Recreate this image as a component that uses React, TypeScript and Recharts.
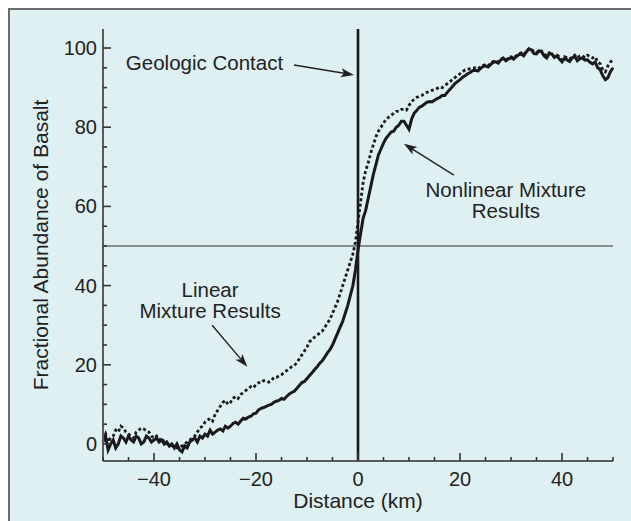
import React from "react";
import { LineChart, Line, XAxis, YAxis, ReferenceLine, ReferenceDot } from "recharts";

const distanceKm: number[] = [
  -50, -49.5, -49, -48.5, -48, -47.5, -47, -46.5, -46, -45.5, -45, -44.5, -44, -43.5, -43, -42.5, -42, -41.5, -41, -40.5,
  -40, -39.5, -39, -38.5, -38, -37.5, -37, -36.5, -36, -35.5, -35, -34.5, -34, -33.5, -33, -32.5, -32, -31.5, -31, -30.5,
  -30, -29.5, -29, -28.5, -28, -27.5, -27, -26.5, -26, -25.5, -25, -24.5, -24, -23.5, -23, -22.5, -22, -21.5, -21, -20.5,
  -20, -19.5, -19, -18.5, -18, -17.5, -17, -16.5, -16, -15.5, -15, -14.5, -14, -13.5, -13, -12.5, -12, -11.5, -11, -10.5,
  -10, -9.5, -9, -8.5, -8, -7.5, -7, -6.5, -6, -5.5, -5, -4.5, -4, -3.5, -3, -2.5, -2, -1.5, -1, -0.5,
  0, 0.5, 1, 1.5, 2, 2.5, 3, 3.5, 4, 4.5, 5, 5.5, 6, 6.5, 7, 7.5, 8, 8.5, 9, 9.5,
  10, 10.5, 11, 11.5, 12, 12.5, 13, 13.5, 14, 14.5, 15, 15.5, 16, 16.5, 17, 17.5, 18, 18.5, 19, 19.5,
  20, 20.5, 21, 21.5, 22, 22.5, 23, 23.5, 24, 24.5, 25, 25.5, 26, 26.5, 27, 27.5, 28, 28.5, 29, 29.5,
  30, 30.5, 31, 31.5, 32, 32.5, 33, 33.5, 34, 34.5, 35, 35.5, 36, 36.5, 37, 37.5, 38, 38.5, 39, 39.5,
  40, 40.5, 41, 41.5, 42, 42.5, 43, 43.5, 44, 44.5, 45, 45.5, 46, 46.5, 47, 47.5, 48, 48.5, 49, 49.5,
  50,
];

const linearMixture: number[] = [
  1, 2.5, 0.5, 1.5, 2, 3.5, 3, 4.5, 4, 3, 2.5, 2, 1.5, 3, 3.5, 4, 3.8, 3.2, 3, 2,
  1.5, 2, 1, 1.5, 0.5, 0, 0, -0.5, -0.5, -1, -1, -0.5, 0, 0.5, 1, 1.5, 2, 3, 4, 4.5,
  5.5, 6, 6.5, 5.8, 7.5, 8.5, 9.5, 10.5, 11, 10, 10.5, 11.5, 12, 11.5, 12.5, 13, 13.5, 14, 14.5, 14.2,
  15, 15.5, 15.5, 16, 16, 15.6, 16, 16.8, 16.8, 17.2, 17.5, 18, 18.5, 19, 19.5, 19.8, 20.5, 21.5, 22.5, 23.5,
  24.5, 25.8, 26.5, 27, 27.5, 28, 28.5, 29.5, 30.5, 31.5, 33, 34.5, 36, 38, 40, 42, 44, 46, 48, 51,
  56, 61, 66, 69, 71, 73.5, 75.5, 77.5, 79, 80, 81, 82, 82.5, 83, 83.5, 84, 84, 84.5, 84.5, 84.3,
  85.5, 86.5, 87, 87.5, 87.8, 88, 88.5, 88.8, 89, 89.3, 89.5, 89.8, 90.2, 90, 90.5, 91, 91.5, 92, 92.5, 93,
  93.5, 94, 94.5, 94.6, 94.8, 95, 95, 94.7, 95.2, 95.6, 95.8, 95.5, 96.2, 96.6, 96.8, 96.5, 97.2, 97.5, 97, 97.5,
  97.8, 97.5, 98, 98.5, 98.8, 98.3, 99.2, 99.8, 99.8, 99, 98.8, 99.5, 99.2, 98.5, 98, 98.8, 98.5, 97.8, 98.2, 97.8,
  97, 97.8, 97.5, 97.2, 97.8, 98.2, 97.5, 98, 98, 97.6, 98.2, 97.8, 97.5, 97.8, 96.5, 96, 94.5, 94, 95.5, 96.5,
  97,
];

const nonlinearMixture: number[] = [
  0.5, 2, -1.5, 0, 1, -1, 0, 2, 1.5, 0.5, 2, 1, 0.5, 2, 1.5, 0, 0.5, 2, 1.5, 0.5,
  1, 1.5, 0.5, 1, 0, 0.5, -0.5, 0, -1, 0, -1.5, -2, -0.5, -1, 0.5, 1, 1.5, 0.5, 2, 1.5,
  2.5, 2, 3.5, 2.5, 3, 3.5, 3.8, 3.3, 4.5, 4, 4.5, 5.2, 5.5, 5, 5.8, 6.5, 6.3, 6.8, 7, 7.6,
  7.8, 8.6, 9, 9.2, 9.5, 9.8, 10, 10.5, 10.8, 11, 11.5, 11.3, 12, 12.6, 13, 13.3, 14, 14.8, 15.5, 15.8,
  16.5, 17.3, 18, 18.8, 19.5, 20.4, 21, 22, 23, 23.8, 25, 26.5, 28, 29.5, 31, 33, 35, 37.5, 40, 44,
  49, 53, 57, 59, 62, 65, 68, 70.5, 73, 74.5, 76, 77.2, 78, 78.8, 79, 80, 80.5, 81.5, 81.5, 80.5,
  79.5, 82, 83.5, 84.2, 85, 85.3, 85.8, 86.3, 86.5, 86.4, 86.8, 87.2, 87.5, 88, 88, 88.8, 89.5, 90.2, 91, 91.5,
  92, 92.6, 93, 93.5, 93.8, 94.3, 94.4, 94.2, 94.8, 95.3, 95.5, 95.2, 95.8, 96.4, 96.5, 96.2, 97, 97.4, 96.8, 97.3,
  97.5, 97.2, 97.8, 98.3, 98.5, 98, 99, 99.8, 99.5, 98.6, 98.5, 99.3, 99, 98, 97.5, 98.6, 98.5, 97.6, 98, 97.2,
  96.5, 97.4, 97, 96.6, 97.5, 97.9, 96.8, 97.3, 97.5, 96.9, 97, 96.4, 96, 96.5, 95, 94.5, 93, 92, 92.5, 94,
  95,
];

const xTicks: number[] = [-50, -45, -40, -35, -30, -25, -20, -15, -10, -5, 0, 5, 10, 15, 20, 25, 30, 35, 40, 45, 50];
const yTicks: number[] = [0, 5, 10, 15, 20, 25, 30, 35, 40, 45, 50, 55, 60, 65, 70, 75, 80, 85, 90, 95, 100];

const data = distanceKm.map((x, i) => ({
  x,
  linear: linearMixture[i],
  nonlinear: nonlinearMixture[i],
}));

const FONT = '"Liberation Sans", Arial, Helvetica, sans-serif';
const INK = "#222";
const TICK = "#333";
const AXIS = "#5a5a5a";

const fmt = (v: number) => (v < 0 ? "\u2212" + Math.abs(v) : String(v));
const isMajor = (v: number) => v % 20 === 0;

const BottomTick = (p: any) => {
  const { x, y, payload } = p;
  const v = payload.value;
  const len = isMajor(v) ? 8 : 4;
  return (
    <g>
      <line x1={x} y1={y} x2={x} y2={y - len} stroke={TICK} strokeWidth={1.6} />
      {isMajor(v) && Math.abs(v) < 50 && (
        <text x={x} y={y + 25} textAnchor="middle" fontFamily={FONT} fontSize={20} fill={INK}>
          {fmt(v)}
        </text>
      )}
    </g>
  );
};

const TopTick = (p: any) => {
  const { x, y, payload } = p;
  const len = isMajor(payload.value) ? 8 : 4;
  return <line x1={x} y1={y} x2={x} y2={y + len} stroke={TICK} strokeWidth={1.6} />;
};

const LeftTick = (p: any) => {
  const { x, y, payload } = p;
  const v = payload.value;
  const len = isMajor(v) ? 8 : 4;
  return (
    <g>
      <line x1={x} y1={y} x2={x + len} y2={y} stroke={TICK} strokeWidth={1.6} />
      {isMajor(v) && (
        <text x={x - 6} y={y + 7} textAnchor="end" fontFamily={FONT} fontSize={20} fill={INK}>
          {fmt(v)}
        </text>
      )}
    </g>
  );
};

const RightTick = (p: any) => {
  const { x, y, payload } = p;
  const len = isMajor(payload.value) ? 8 : 4;
  return <line x1={x} y1={y} x2={x - len} y2={y} stroke={TICK} strokeWidth={1.6} />;
};

const Arrow = (p: any) => {
  const { x1, y1, x2, y2 } = p;
  const dx = x2 - x1;
  const dy = y2 - y1;
  const L = Math.sqrt(dx * dx + dy * dy) || 1;
  const ux = dx / L;
  const uy = dy / L;
  const hl = 13;
  const hw = 4.5;
  const bx = x2 - ux * hl;
  const by = y2 - uy * hl;
  const pts = `${x2},${y2} ${bx - uy * hw},${by + ux * hw} ${bx + ux * 3},${by + uy * 3} ${bx + uy * hw},${by - ux * hw}`;
  return (
    <g>
      <line x1={x1} y1={y1} x2={bx + ux * 3} y2={by + uy * 3} stroke={INK} strokeWidth={1.4} />
      <polygon points={pts} fill={INK} />
    </g>
  );
};

const makeText = (lines: string[]) => (p: any) => {
  const { cx, cy } = p;
  return (
    <g>
      {lines.map((l, i) => (
        <text key={i} x={cx} y={cy + 7 + i * 21} textAnchor="middle" fontFamily={FONT} fontSize={20.5} fill={INK}>
          {l}
        </text>
      ))}
    </g>
  );
};

const YLabel = (p: any) => {
  const vb = p.viewBox || {};
  const cx = (vb.x || 0) + 40;
  const cy = (vb.y || 0) + (vb.height || 0) / 2;
  return (
    <text
      x={cx}
      y={cy}
      transform={`rotate(-90, ${cx}, ${cy})`}
      textAnchor="middle"
      dominantBaseline="central"
      fontFamily={FONT}
      fontSize={21}
      fill={INK}
    >
      Fractional Abundance of Basalt
    </text>
  );
};

export default function App() {
  return (
    <div style={{ position: "fixed", left: 0, top: 0, width: 631, height: 521, background: "#fff", overflow: "hidden" }}>
      <div
        style={{
          position: "absolute",
          left: 8,
          top: 8,
          width: 700,
          height: 600,
          background: "#dff0f2",
          borderTop: "2px solid #6b6b6b",
          borderLeft: "2px solid #6b6b6b",
        }}
      />
      <div style={{ position: "absolute", left: 0, top: 0 }}>
        <LineChart width={631} height={521} data={data} margin={{ top: 29, right: 18, bottom: 0, left: 0 }}>
          <XAxis
            xAxisId="bottom"
            dataKey="x"
            type="number"
            domain={[-50, 50]}
            ticks={xTicks}
            interval={0}
            height={60}
            tickSize={0}
            tickMargin={0}
            tickLine={false}
            axisLine={{ stroke: AXIS, strokeWidth: 2 }}
            tick={BottomTick}
            label={{ value: "Distance (km)", position: "insideBottom", offset: 13, fontFamily: FONT, fontSize: 21, fill: INK }}
          />
          <XAxis
            xAxisId="top"
            orientation="top"
            dataKey="x"
            type="number"
            domain={[-50, 50]}
            ticks={xTicks}
            interval={0}
            height={0}
            tickSize={0}
            tickMargin={0}
            tickLine={false}
            axisLine={{ stroke: AXIS, strokeWidth: 2 }}
            tick={TopTick}
          />
          <YAxis
            yAxisId="left"
            type="number"
            domain={[-4.3, 104.8]}
            ticks={yTicks}
            interval={0}
            width={103}
            tickSize={0}
            tickMargin={0}
            tickLine={false}
            axisLine={{ stroke: AXIS, strokeWidth: 2 }}
            tick={LeftTick}
            label={<YLabel />}
          />
          <YAxis
            yAxisId="right"
            orientation="right"
            type="number"
            domain={[-4.3, 104.8]}
            ticks={yTicks}
            interval={0}
            width={0}
            tickSize={0}
            tickMargin={0}
            tickLine={false}
            axisLine={{ stroke: AXIS, strokeWidth: 2 }}
            tick={RightTick}
          />
          <ReferenceLine xAxisId="bottom" yAxisId="left" y={50} stroke="#333" strokeWidth={1.2} />
          <Line
            xAxisId="bottom"
            yAxisId="left"
            type="linear"
            dataKey="linear"
            stroke="#1a1a1a"
            strokeWidth={2.8}
            strokeDasharray="3 2.5"
            dot={false}
            isAnimationActive={false}
          />
          <Line
            xAxisId="bottom"
            yAxisId="left"
            type="linear"
            dataKey="nonlinear"
            stroke="#1a1a1a"
            strokeWidth={3}
            dot={false}
            isAnimationActive={false}
          />
          <ReferenceLine xAxisId="bottom" yAxisId="left" x={0} stroke="#1a1a1a" strokeWidth={2.6} />
          <ReferenceLine
            xAxisId="bottom"
            yAxisId="left"
            segment={[{ x: -12.55, y: 95.7 }, { x: -0.8, y: 93.2 }]}
            shape={Arrow}
          />
          <ReferenceLine
            xAxisId="bottom"
            yAxisId="left"
            segment={[{ x: 18.8, y: 67.9 }, { x: 9.0, y: 75.8 }]}
            shape={Arrow}
          />
          <ReferenceLine
            xAxisId="bottom"
            yAxisId="left"
            segment={[{ x: -28.6, y: 30.0 }, { x: -21.7, y: 19.5 }]}
            shape={Arrow}
          />
          <ReferenceDot xAxisId="bottom" yAxisId="left" x={-30.1} y={96.3} r={0} shape={makeText(["Geologic Contact"])} />
          <ReferenceDot
            xAxisId="bottom"
            yAxisId="left"
            x={29}
            y={64.2}
            r={0}
            shape={makeText(["Nonlinear Mixture", "Results"])}
          />
          <ReferenceDot
            xAxisId="bottom"
            yAxisId="left"
            x={-29}
            y={39}
            r={0}
            shape={makeText(["Linear", "Mixture Results"])}
          />
        </LineChart>
      </div>
    </div>
  );
}
